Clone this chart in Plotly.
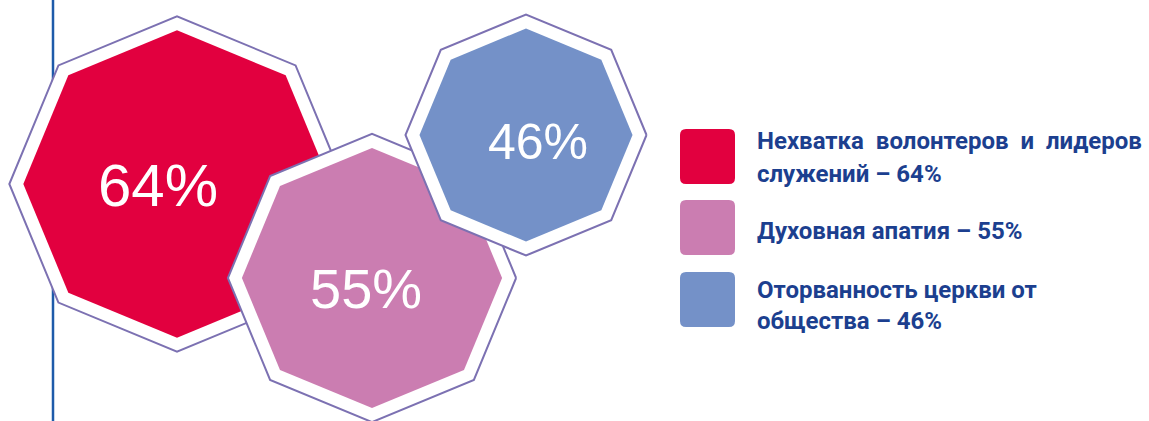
import numpy as np
import plotly.graph_objects as go

# data
labels = ["Нехватка волонтеров и лидеров служений", "Духовная апатия", "Оторванность церкви от общества"]
values = [64, 55, 46]
colors = ["#E2003F", "#CB7DB1", "#7491C8"]
legend_lines = [
    ["Нехватка\u00a0 волонтеров\u00a0 и\u00a0 лидеров", "служений – 64%"],
    ["Духовная апатия – 55%"],
    ["Оторванность церкви от", "общества – 46%"],
]

W, H = 1149, 421
outline = "#7C71B2"
text_blue = "#1C3F8F"

# layout of the octagons (pixel space)
centers = [(177, 184), (372, 278), (526, 135)]
scale = 2.62      # outer radius per percent
gap = 14          # white ring width


def octagon(cx, cy, r):
    ang = np.deg2rad(np.arange(0, 361, 45))
    return cx + r * np.cos(ang), cy - r * np.sin(ang)


fig = go.Figure()

for v, c, (cx, cy) in zip(values, colors, centers):
    r = scale * v
    xo, yo = octagon(cx, cy, r)
    fig.add_trace(go.Scatter(x=xo, y=yo, mode="lines", fill="toself",
                             fillcolor="white", line=dict(color=outline, width=2),
                             hoverinfo="skip", showlegend=False))
    xi, yi = octagon(cx, cy, r - gap)
    fig.add_trace(go.Scatter(x=xi, y=yi, mode="lines", fill="toself",
                             fillcolor=c, line=dict(color=c, width=0),
                             hoverinfo="skip", showlegend=False))

# percentage labels inside octagons
label_pos = [(158, 185), (366, 288), (538, 142)]
label_size = [60, 56, 50]
for v, (lx, ly), s in zip(values, label_pos, label_size):
    fig.add_annotation(x=lx, y=ly, text=f"{v}%", showarrow=False,
                       font=dict(family="Liberation Sans, Arial", size=s, color="white"),
                       xanchor="center", yanchor="middle")

shapes = [dict(type="line", x0=53, x1=53, y0=0, y1=H, xref="x", yref="y",
               line=dict(color="#1E5BAA", width=2.5), layer="below")]

# legend swatches
sw_top = [129, 200, 272]
sw_x0, sw_size, rad = 680, 55, 6
for c, t in zip(colors, sw_top):
    x0, x1, y0, y1 = sw_x0, sw_x0 + sw_size, t, t + sw_size
    path = (f"M{x0+rad},{y0} L{x1-rad},{y0} Q{x1},{y0} {x1},{y0+rad} "
            f"L{x1},{y1-rad} Q{x1},{y1} {x1-rad},{y1} L{x0+rad},{y1} "
            f"Q{x0},{y1} {x0},{y1-rad} L{x0},{y0+rad} Q{x0},{y0} {x0+rad},{y0} Z")
    shapes.append(dict(type="path", path=path, xref="x", yref="y",
                       fillcolor=c, line=dict(width=0)))

line_y = [[141, 174], [231], [290, 321]]
tfont = dict(family="Roboto, sans-serif", size=24, color=text_blue)
for lines, ys in zip(legend_lines, line_y):
    for txt, y in zip(lines, ys):
        fig.add_annotation(x=755, y=y, text=f"<b>{txt}</b>", showarrow=False,
                           font=tfont, xanchor="left", yanchor="middle")

fig.update_layout(
    width=W, height=H,
    margin=dict(l=0, r=0, t=0, b=0),
    paper_bgcolor="white", plot_bgcolor="white",
    xaxis=dict(range=[0, W], visible=False, fixedrange=True),
    yaxis=dict(range=[H, 0], visible=False, fixedrange=True),
    shapes=shapes,
    showlegend=False,
)

fig.write_html("out.html", config={"displayModeBar": False},
               post_script="document.body.style.margin='0';")
